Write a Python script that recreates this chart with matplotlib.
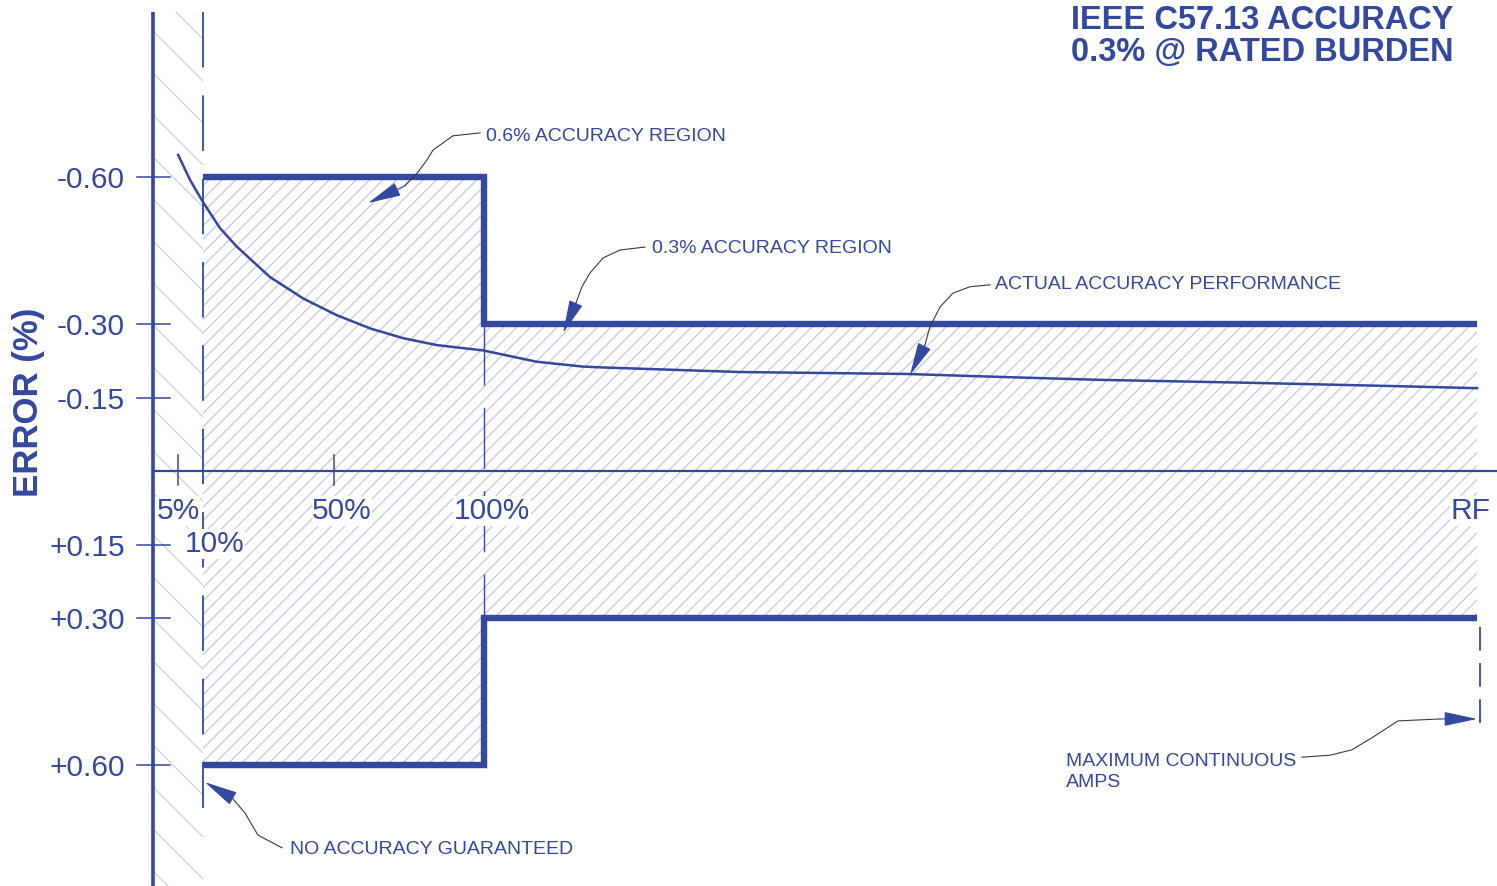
import numpy as np
import matplotlib
matplotlib.use('Agg')
import matplotlib.pyplot as plt
from matplotlib import font_manager
from matplotlib.collections import LineCollection
from matplotlib.patches import Polygon
from matplotlib.transforms import IdentityTransform

plt.rcParams['lines.scale_dashes'] = False

BLUE   = '#3548a0'
HATCH  = '#c3c7e2'
LEADER = '#3c3c3c'

names = {f.name for f in font_manager.fontManager.ttflist}
if 'Liberation Sans Narrow' in names:
    NARROW, NSIZE = 'Liberation Sans Narrow', 16.8
else:
    NARROW, NSIZE = 'Liberation Sans', 14.0
SANS = ['Liberation Sans', 'DejaVu Sans']

# load axis in schematic units (rated current 100% = 1.0, rating factor = 4.0)
load_ticks  = [0.0755, 0.151, 0.547, 1.0, 4.0]
load_labels = ['5%', '10%', '50%', '100%', 'RF']

error_ticks  = [-0.60, -0.30, -0.15, 0.15, 0.30, 0.60]
error_labels = ['-0.60', '-0.30', '-0.15', '+0.15', '+0.30', '+0.60']

# 0.3 class limits (0.6 below rated current)
limit_x = [0.151, 1.0, 1.0, 4.0]
limit_y = [0.60, 0.60, 0.30, 0.30]

# actual accuracy performance
curve_x = [0.076, 0.112, 0.150, 0.202, 0.253, 0.353, 0.454, 0.555, 0.656, 0.756,
           0.857, 0.998, 1.159, 1.300, 1.372, 1.773, 2.278, 2.559, 2.861, 3.314,
           3.767, 4.0]
curve_y = [-0.645, -0.594, -0.550, -0.496, -0.458, -0.396, -0.352, -0.318, -0.291,
           -0.271, -0.257, -0.246, -0.223, -0.213, -0.211, -0.202, -0.198, -0.192,
           -0.186, -0.180, -0.173, -0.169]

fig = plt.figure(figsize=(14.97, 8.86), dpi=100)
ax = fig.add_axes([0, 0, 1, 1])
ax.set_xlim(-0.4622, 4.0604)
ax.set_ylim(0.8469, -0.9612)
ax.axis('off')


def hatch(xs, ys, spacing, rising, color):
    poly = Polygon(np.column_stack([xs, ys]), closed=True, fc='none', ec='none')
    ax.add_patch(poly)
    W, H = fig.bbox.width, fig.bbox.height
    offs = np.arange(-H, W + H, spacing)
    if rising:
        segs = [[(c, 0), (c + H, H)] for c in offs]
    else:
        segs = [[(c, H), (c + H, 0)] for c in offs]
    lc = LineCollection(segs, colors=color, linewidths=0.9, transform=IdentityTransform())
    ax.add_collection(lc, autolim=False)
    lc.set_clip_path(poly)


# hatched regions
hatch([0, 0.151, 0.151, 0], [-0.937, -0.937, 0.85, 0.85], 42, False, '#cdd0e4')
region_x = limit_x + limit_x[::-1]
region_y = [-v for v in limit_y] + limit_y[::-1]
hatch(region_x, region_y, 13.4, True, HATCH)

# axes
ax.plot([0, 0], [-0.937, 0.85], color=BLUE, lw=2.6, solid_capstyle='butt')
ax.plot([0, 4.06], [0, 0], color=BLUE, lw=1.6, solid_capstyle='butt')

for v, lab in zip(error_ticks, error_labels):
    ax.plot([-0.048, 0.051], [v, v], color=BLUE, lw=1.1)
    ax.text(-0.0846, v, lab, ha='right', va='center_baseline', fontsize=21.5,
            family=SANS, color=BLUE)

for v in [load_ticks[0], load_ticks[2]]:
    ax.plot([v, v], [-0.033, 0.029], color=BLUE, lw=1.1)

label_x = [0.0755, 0.187, 0.571, 1.024, 3.98]
label_y = [0.0755, 0.143, 0.0755, 0.0755, 0.0755]
for x, y, lab in zip(label_x, label_y, load_labels):
    ax.text(x, y, lab, ha='center', va='center_baseline', fontsize=21.5, family=SANS,
            color=BLUE, bbox=dict(fc='white', ec='none', pad=0.5))

# dashed reference lines
ax.plot([0.151, 0.151], [-0.937, 0.688], color=BLUE, lw=1.3, dashes=(40, 20))
ax.plot([1.0, 1.0], [-0.3, 0.3], color=BLUE, lw=1.0, dashes=(44, 16))
ax.plot([4.01, 4.01], [0.318, 0.535], color=BLUE, lw=1.3, dashes=(17, 9))

# accuracy limits
ax.plot(limit_x, [-v for v in limit_y], color=BLUE, lw=4.6,
        solid_joinstyle='miter', solid_capstyle='butt')
ax.plot(limit_x, limit_y, color=BLUE, lw=4.6,
        solid_joinstyle='miter', solid_capstyle='butt')

ax.plot(curve_x, curve_y, color=BLUE, lw=1.8)


def leader(pts, tip, text, tx, ty):
    xs, ys = zip(*pts)
    ax.plot(xs, ys, color=LEADER, lw=0.8)
    ax.annotate('', xy=tip, xytext=pts[-1],
                arrowprops=dict(arrowstyle='-|>,head_length=2.1,head_width=0.45',
                                mutation_scale=10, fc=BLUE, ec=BLUE, lw=0.8,
                                shrinkA=0, shrinkB=0))
    ax.text(tx, ty, text, ha='left', va='center_baseline', fontsize=NSIZE,
            family=[NARROW, 'DejaVu Sans'], color=BLUE, linespacing=1.3)


leader([(0.988, -0.690), (0.906, -0.684), (0.846, -0.655), (0.828, -0.635),
        (0.798, -0.608), (0.761, -0.582)], (0.650, -0.547),
       '0.6% ACCURACY REGION', 1.006, -0.686)
leader([(1.486, -0.457), (1.411, -0.451), (1.360, -0.435), (1.320, -0.404),
        (1.296, -0.376), (1.278, -0.343)], (1.239, -0.282),
       '0.3% ACCURACY REGION', 1.508, -0.459)
leader([(2.529, -0.380), (2.468, -0.376), (2.417, -0.363), (2.378, -0.335),
        (2.347, -0.294), (2.332, -0.257)], (2.287, -0.196),
       'ACTUAL ACCURACY PERFORMANCE', 2.544, -0.384)
leader([(0.390, 0.769), (0.317, 0.743), (0.278, 0.698), (0.239, 0.667)],
       (0.157, 0.635), 'NO ACCURACY GUARANTEED', 0.414, 0.769)
leader([(3.471, 0.584), (3.556, 0.580), (3.622, 0.569), (3.686, 0.543),
        (3.761, 0.510), (3.888, 0.506)], (4.0, 0.506),
       'MAXIMUM CONTINUOUS\nAMPS', 2.758, 0.606)

# titles
ax.text(3.350, -0.902, 'IEEE C57.13 ACCURACY', ha='center', va='baseline',
        fontsize=23.5, fontweight='bold', family=SANS, color=BLUE)
ax.text(3.350, -0.837, '0.3% @ RATED BURDEN', ha='center', va='baseline',
        fontsize=23.5, fontweight='bold', family=SANS, color=BLUE)
ax.text(-0.375, -0.141, 'ERROR (%)', rotation=90, ha='center', va='center',
        fontsize=25, fontweight='bold', family=SANS, color=BLUE)

fig.savefig('out.png', dpi=100)
